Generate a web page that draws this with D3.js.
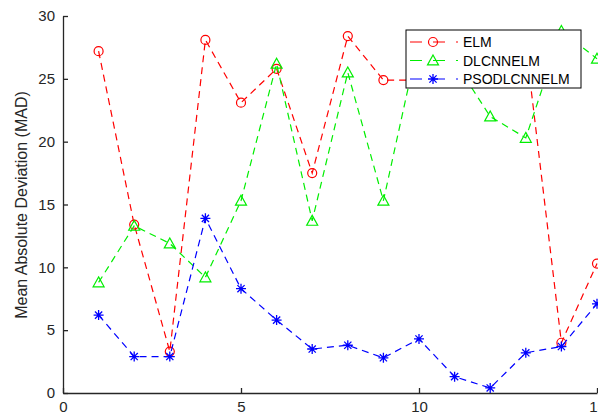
<!DOCTYPE html>
<html lang="en">
<head>
    <meta charset="UTF-8">
    <title>MAD chart</title>
    <script src="https://cdn.jsdelivr.net/npm/d3@7/dist/d3.min.js"></script>
    <style>
        body { margin: 0; background: #fff; }
        text { font-family: "Liberation Sans", Arial, sans-serif; }
    </style>
</head>
<body>
<svg id="chart" width="598" height="416"></svg>
</body>
<script>
    const xValues = [1,2,3,4,5,6,7,8,9,10,11,12,13,14,15];
    const elm = [27.2,13.4,3.3,28.1,23.1,25.8,17.5,28.4,24.9,24.9,26.4,27.0,27.7,4.0,10.3];
    const dlcnnelm = [8.8,13.3,11.9,9.2,15.3,26.2,13.7,25.5,15.3,28.2,26.4,22.0,20.3,28.8,26.6];
    const psodlcnnelm = [6.2,2.9,2.9,13.9,8.3,5.8,3.5,3.8,2.8,4.3,1.3,0.4,3.2,3.7,7.1];
    const seriesNames = ['ELM','DLCNNELM','PSODLCNNELM'];
    const xTicks = [0,5,10,15];
    const yTicks = [0,5,10,15,20,25,30];

    const series = [
        {name: seriesNames[0], values: elm, color: '#ff0000', marker: 'circle'},
        {name: seriesNames[1], values: dlcnnelm, color: '#00ee00', marker: 'triangle'},
        {name: seriesNames[2], values: psodlcnnelm, color: '#0000ff', marker: 'star'}
    ];

    let svg = d3.select('#chart');
    let x = d3.scaleLinear().domain([0,15]).range([63,597]);
    let y = d3.scaleLinear().domain([0,30]).range([393,16]);
    const axisColor = '#262626';

    // axes
    let gx = svg.append('g').attr('transform','translate(0,393)')
        .call(d3.axisBottom(x).tickValues(xTicks).tickSizeInner(-5).tickSizeOuter(0).tickPadding(8));
    let gy = svg.append('g').attr('transform','translate(63,0)')
        .call(d3.axisLeft(y).tickValues(yTicks).tickSizeInner(-5).tickSizeOuter(0).tickPadding(8));
    [gx, gy].forEach(g => {
        g.select('.domain').attr('stroke', axisColor).attr('stroke-width', 1.3);
        g.selectAll('.tick line').attr('stroke', axisColor).attr('stroke-width', 1.3);
        g.selectAll('.tick text').attr('fill', axisColor).style('font-size','15px')
            .style('font-family','"Liberation Sans", Arial, sans-serif');
    });

    svg.append('text')
        .attr('transform','translate(27,205) rotate(-90)')
        .attr('text-anchor','middle')
        .attr('fill', axisColor)
        .style('font-size','16px')
        .text('Mean Absolute Deviation (MAD)');

    function drawMarker(g, type, cx, cy, color){
        if(type === 'circle'){
            g.append('circle').attr('cx',cx).attr('cy',cy).attr('r',4.5)
                .attr('fill','none').attr('stroke',color).attr('stroke-width',1.2);
        }else if(type === 'triangle'){
            let s = 5.5;
            g.append('path')
                .attr('d', `M${cx},${cy-s} L${cx+s},${cy+s*0.8} L${cx-s},${cy+s*0.8} Z`)
                .attr('fill','none').attr('stroke',color).attr('stroke-width',1.2);
        }else{
            let s = 5, d = s*0.72;
            g.append('path')
                .attr('d', `M${cx-s},${cy} L${cx+s},${cy} M${cx},${cy-s} L${cx},${cy+s}`
                    + ` M${cx-d},${cy-d} L${cx+d},${cy+d} M${cx-d},${cy+d} L${cx+d},${cy-d}`)
                .attr('fill','none').attr('stroke',color).attr('stroke-width',1.3);
        }
    }

    let line = d3.line().x(d => x(d[0])).y(d => y(d[1]));
    series.forEach(s => {
        let pts = xValues.map((v,i) => [v, s.values[i]]);
        let g = svg.append('g');
        g.append('path').datum(pts).attr('d', line)
            .attr('fill','none').attr('stroke', s.color).attr('stroke-width',1.2)
            .attr('stroke-dasharray','7,5');
        pts.forEach(p => drawMarker(g, s.marker, x(p[0]), y(p[1]), s.color));
    });

    // legend
    let lg = svg.append('g');
    lg.append('rect').attr('x',406).attr('y',30).attr('width',175).attr('height',58)
        .attr('fill','#fff').attr('stroke','#000').attr('stroke-width',1);
    series.forEach((s,i) => {
        let cy = 42 + i*18.5;
        lg.append('line').attr('x1',410).attr('x2',458).attr('y1',cy).attr('y2',cy)
            .attr('stroke', s.color).attr('stroke-width',1.2).attr('stroke-dasharray','12,11');
        drawMarker(lg, s.marker, 433, cy, s.color);
        lg.append('text').attr('x',463).attr('y',cy+5).attr('fill','#000')
            .style('font-size','14px').text(s.name);
    });
</script>
</html>
